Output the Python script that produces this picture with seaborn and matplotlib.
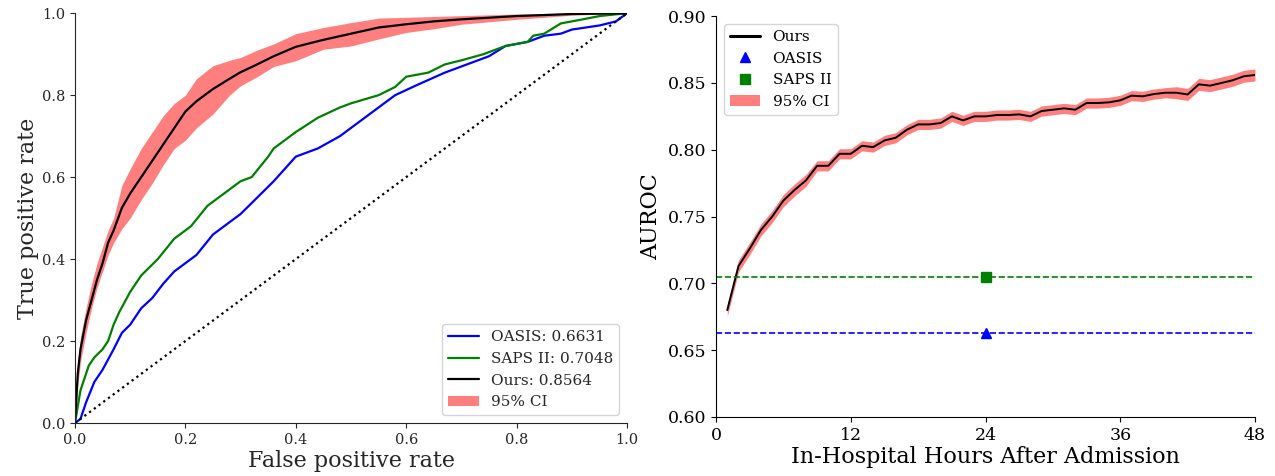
import matplotlib
matplotlib.use('Agg')
import matplotlib.pyplot as plt
from matplotlib.lines import Line2D
from matplotlib.patches import Patch
import seaborn as sns

# ROC curves (left panel)
fpr_ours = [0, .005, .01, .02, .03, .04, .05, .06, .07, .085, .1, .12, .14, .16, .18, .2, .22,
            .25, .28, .3, .33, .36, .4, .45, .5, .55, .6, .65, .7, .8, .9, 1.0]
tpr_ours = [0, .12, .18, .25, .30, .35, .39, .44, .47, .525, .56, .60, .64, .68, .72, .76, .785,
            .815, .84, .856, .875, .895, .918, .935, .95, .965, .973, .98, .985, .993, .998, 1.0]
tpr_ours_hi = [0, .15, .21, .28, .34, .39, .43, .47, .50, .58, .62, .67, .71, .75, .78, .80, .84,
               .872, .885, .892, .91, .925, .95, .965, .977, .988, .99, .992, .994, .998, 1.0, 1.0]
tpr_ours_lo = [0, .09, .15, .22, .28, .33, .37, .41, .44, .474, .50, .545, .585, .63, .67, .69, .72,
               .754, .80, .823, .845, .87, .884, .912, .92, .937, .953, .962, .973, .985, .995, 1.0]

fpr_saps = [0, .01, .025, .035, .05, .06, .07, .08, .1, .12, .15, .18, .21, .24, .27, .3, .32, .35,
            .36, .4, .44, .48, .5, .55, .58, .6, .64, .67, .7, .74, .78, .82, .83, .85, .88, .92, .95, 1.0]
tpr_saps = [0, .08, .14, .16, .18, .2, .24, .27, .32, .36, .40, .45, .48, .53, .56, .59, .60, .65,
            .67, .71, .745, .77, .78, .80, .82, .845, .855, .875, .885, .90, .92, .93, .945, .95, .975, .985, .993, 1.0]

fpr_oasis = [0, .01, .02, .035, .05, .07, .085, .1, .12, .14, .16, .18, .2, .22, .25, .28, .3, .33,
             .36, .4, .44, .48, .5, .53, .58, .62, .67, .7, .75, .78, .82, .85, .88, .9, .95, .98, 1.0]
tpr_oasis = [0, .01, .05, .1, .13, .18, .22, .24, .28, .305, .34, .37, .39, .41, .46, .49, .51, .55,
             .59, .65, .67, .70, .72, .75, .80, .825, .855, .87, .895, .92, .93, .945, .95, .96, .97, .98, 1.0]

auc_oasis, auc_saps, auc_ours = 0.6631, 0.7048, 0.8564

# AUROC over hours (right panel)
hours = list(range(1, 49))
auroc = [0.680, 0.713, 0.726, 0.740, 0.750, 0.762, 0.770, 0.777, 0.788, 0.788, 0.797, 0.797,
         0.803, 0.802, 0.807, 0.809, 0.815, 0.819, 0.819, 0.820, 0.825, 0.822, 0.825, 0.825,
         0.826, 0.826, 0.8265, 0.825, 0.829, 0.830, 0.831, 0.830, 0.835, 0.835, 0.8355, 0.837,
         0.8405, 0.840, 0.8417, 0.8427, 0.8427, 0.8414, 0.849, 0.848, 0.850, 0.852, 0.855, 0.856]
ci_half = [0.0045] * 8 + [0.0038] * 32 + [0.0045] * 8

sns.set_style('ticks')
plt.rcParams['font.family'] = ['DejaVu Serif']

fig = plt.figure(figsize=(12.75, 4.76), dpi=100)
ax1 = fig.add_axes([0.0588, 0.1113, 0.433, 0.861])
ax2 = fig.add_axes([0.5616, 0.124, 0.4227, 0.842])

# left: ROC
ax1.fill_between(fpr_ours, tpr_ours_lo, tpr_ours_hi, color='red', alpha=0.5, lw=0)
sns.lineplot(x=fpr_oasis, y=tpr_oasis, ax=ax1, color='blue', lw=1.6, sort=False, estimator=None)
sns.lineplot(x=fpr_saps, y=tpr_saps, ax=ax1, color='green', lw=1.6, sort=False, estimator=None)
sns.lineplot(x=fpr_ours, y=tpr_ours, ax=ax1, color='black', lw=1.6, sort=False, estimator=None)
ax1.plot([0, 1], [0, 1], color='black', ls=':', lw=1.6)
ax1.set_xlim(0, 1)
ax1.set_ylim(0, 1)
ax1.set_xticks([0, 0.2, 0.4, 0.6, 0.8, 1.0])
ax1.set_yticks([0, 0.2, 0.4, 0.6, 0.8, 1.0])
ax1.tick_params(labelsize=10.5)
ax1.set_xlabel('False positive rate', fontsize=16, labelpad=2)
ax1.set_ylabel('True positive rate', fontsize=16, labelpad=2)
h1 = [Line2D([], [], color='blue', lw=1.6), Line2D([], [], color='green', lw=1.6),
      Line2D([], [], color='black', lw=1.6), Patch(color='red', alpha=0.5, lw=0)]
ax1.legend(h1, [f'OASIS: {auc_oasis:.4f}', f'SAPS II: {auc_saps:.4f}',
                f'Ours: {auc_ours:.4f}', '95% CI'], loc='lower right', fontsize=11)
sns.despine(ax=ax1)

# right: AUROC over time
lo = [a - c for a, c in zip(auroc, ci_half)]
hi = [a + c for a, c in zip(auroc, ci_half)]
ax2.fill_between(hours, lo, hi, color='red', alpha=0.5, lw=0)
sns.lineplot(x=hours, y=auroc, ax=ax2, color='black', lw=1.4)
ax2.axhline(auc_saps, color='green', ls='--', lw=1.2)
ax2.axhline(auc_oasis, color='blue', ls='--', lw=1.2)
ax2.plot([24], [auc_oasis], marker='^', color='blue', ms=7, ls='none')
ax2.plot([24], [auc_saps], marker='s', color='green', ms=7, ls='none')
ax2.set_xlim(0, 48)
ax2.set_ylim(0.60, 0.90)
ax2.set_xticks([0, 12, 24, 36, 48])
ax2.set_yticks([0.60, 0.65, 0.70, 0.75, 0.80, 0.85, 0.90])
ax2.set_yticklabels(['0.60', '0.65', '0.70', '0.75', '0.80', '0.85', '0.90'])
ax2.tick_params(labelsize=12.5, colors='black')
for s in ax2.spines.values():
    s.set_color('black')
ax2.set_xlabel('In-Hospital Hours After Admission', fontsize=16, labelpad=2, color='black')
ax2.set_ylabel('AUROC', fontsize=16, color='black')
h2 = [Line2D([], [], color='black', lw=2.2),
      Line2D([], [], marker='^', color='blue', ls='none', ms=7),
      Line2D([], [], marker='s', color='green', ls='none', ms=7),
      Patch(color='red', alpha=0.5, lw=0)]
leg2 = ax2.legend(h2, ['Ours', 'OASIS', 'SAPS II', '95% CI'], loc='upper left', fontsize=11)
for t in leg2.get_texts():
    t.set_color('black')
sns.despine(ax=ax2)

fig.savefig('out.png', dpi=100)
